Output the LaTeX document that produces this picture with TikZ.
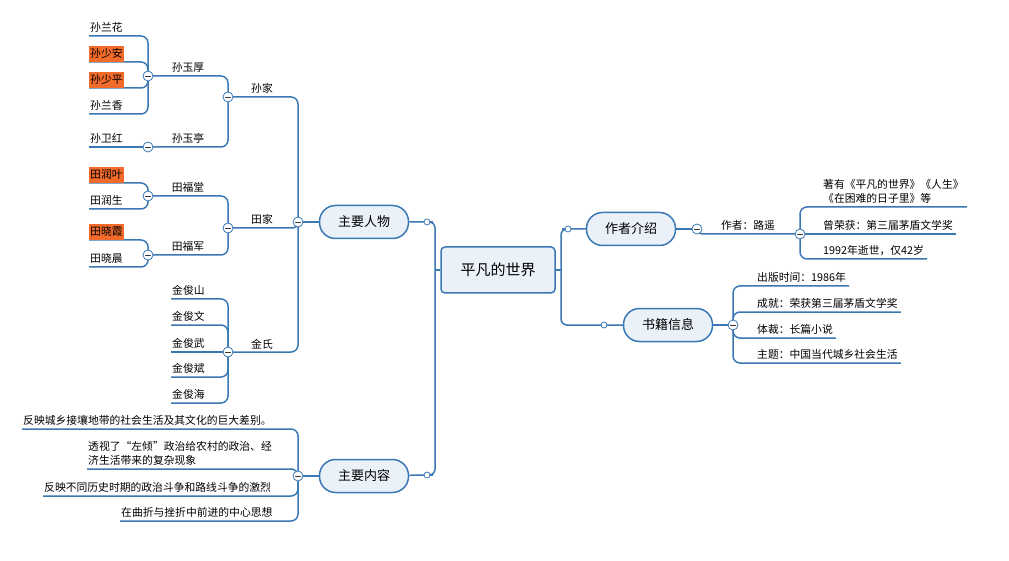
\documentclass[tikz,border=0pt]{standalone}
\usepackage{fontspec}
\setmainfont{Noto Sans CJK SC}
\usetikzlibrary{positioning}
\definecolor{mapblue}{HTML}{3A78B4}
\definecolor{mapfill}{HTML}{EAF1F9}
\definecolor{hotorange}{HTML}{F26B2A}
\pgfdeclarelayer{links}
\pgfsetlayers{links,main}
\tikzset{
  root/.style={draw=mapblue, line width=1.5pt, fill=mapfill, rounded corners=4pt,
    minimum width=114pt, minimum height=46pt, font=\fontsize{15}{18}\selectfont},
  topic/.style={draw=mapblue, line width=1.5pt, fill=mapfill, rounded corners=16pt,
    minimum width=89pt, minimum height=33pt, font=\fontsize{13}{16}\selectfont},
  leaf/.style={inner xsep=1pt, inner ysep=3pt, font=\fontsize{10.8}{14}\selectfont},
  rleaf/.style={leaf, inner xsep=3pt},
  hot/.style={leaf, fill=hotorange},
  fold/.style={circle, draw=mapblue, fill=white, line width=0.8pt, minimum size=10pt, inner sep=0pt,
    path picture={\draw[black!80, line width=0.8pt]
      ([xshift=-2.5pt]path picture bounding box.center) -- ([xshift=2.5pt]path picture bounding box.center);}},
  knot/.style={circle, draw=mapblue, fill=white, line width=0.8pt, minimum size=6pt, inner sep=0pt},
  link/.style={draw=mapblue, line width=1.5pt, rounded corners=7pt},
}

\begin{document}
\begin{tikzpicture}[x=1pt, y=-1pt, line cap=round, line join=round]
  \useasboundingbox (0,0) rectangle (1009,561);

  % ============ centre and main topics ============
  \node[root] (world) at (498,270) {平凡的世界};
  \node[topic] (author) at (631,229) {作者介绍};
  \node[topic] (book) at (668,325) {书籍信息};
  \node[topic] (people) at (364,222) {主要人物};
  \node[topic] (content) at (364,476) {主要内容};

  \coordinate (rfork) at (561,270);
  \coordinate (lfork) at (435,270);
  \node[knot] (authorknot) at (568,229) {};
  \node[knot] (bookknot) at (604,325) {};
  \node[knot] (peopleknot) at (427,222) {};
  \node[knot] (contentknot) at (427,475) {};

  % ============ fold markers ============
  \node[fold] (peoplefold) at (298,222) {};
  \node[fold] (contentfold) at (298,476) {};
  \node[fold] (authorfold) at (697,229) {};
  \node[fold] (luyaofold) at (800,234) {};
  \node[fold] (bookfold) at (733,325) {};
  \node[fold] (sunfold) at (228,97) {};
  \node[fold] (tianfold) at (228,228) {};
  \node[fold] (jinfold) at (228,352) {};
  \node[fold] (yuhoufold) at (148,76) {};
  \node[fold] (yutingfold) at (148,147) {};
  \node[fold] (futangfold) at (148,196) {};
  \node[fold] (fujunfold) at (148,255) {};

  % ============ families ============
  \node[leaf, anchor=south] (sunjia) at (262,97) {孙家};
  \node[leaf, anchor=south] (tianjia) at (262,228) {田家};
  \node[leaf, anchor=south] (jinshi) at (262,352) {金氏};
  \node[leaf, anchor=south] (yuhou) at (188,76) {孙玉厚};
  \node[leaf, anchor=south] (yuting) at (188,147) {孙玉亭};
  \node[leaf, anchor=south] (futang) at (188,196) {田福堂};
  \node[leaf, anchor=south] (fujun) at (188,255) {田福军};

  \node[leaf, anchor=south west] (lanhua) at (89,36) {孙兰花};
  \node[hot, anchor=south west] (shaoan) at (89,62) {孙少安};
  \node[hot, anchor=south west] (shaoping) at (89,88) {孙少平};
  \node[leaf, anchor=south west] (lanxiang) at (89,114) {孙兰香};
  \node[leaf, anchor=south west] (weihong) at (89,147) {孙卫红};
  \node[hot, anchor=south west] (runye) at (89,183) {田润叶};
  \node[leaf, anchor=south west] (runsheng) at (89,209) {田润生};
  \node[hot, anchor=south west] (xiaoxia) at (89,240) {田晓霞};
  \node[leaf, anchor=south west] (xiaochen) at (89,267) {田晓晨};

  \node[leaf, anchor=south west] (junshan) at (171,299) {金俊山};
  \node[leaf, anchor=south west] (junwen) at (171,325) {金俊文};
  \node[leaf, anchor=south west] (junwu) at (171,352) {金俊武};
  \node[leaf, anchor=south west] (junbin) at (171,377) {金俊斌};
  \node[leaf, anchor=south west] (junhai) at (171,403) {金俊海};

  % ============ main content ============
  \node[leaf, anchor=south west] (gap) at (22,429) {反映城乡接壤地带的社会生活及其文化的巨大差别。};
  \node[leaf, anchor=south west, align=left] (leftist) at (87,469)
    {透视了“左倾”政治给农村的政治、经\\济生活带来的复杂现象};
  \node[leaf, anchor=south west] (struggle) at (43,496) {反映不同历史时期的政治斗争和路线斗争的激烈};
  \node[leaf, anchor=south west] (forward) at (120,521) {在曲折与挫折中前进的中心思想};

  % ============ author and book ============
  \node[leaf, anchor=south] (luyao) at (748,234) {作者：路遥};
  \node[rleaf, anchor=south west, align=left] (works) at (820,207)
    {著有《平凡的世界》《人生》\\《在困难的日子里》等};
  \node[rleaf, anchor=south west] (prize) at (820,234) {曾荣获：第三届茅盾文学奖};
  \node[rleaf, anchor=south west] (death) at (820,259) {1992年逝世，仅42岁};

  \node[rleaf, anchor=south west] (year) at (754,286) {出版时间：1986年};
  \node[rleaf, anchor=south west] (honour) at (754,312) {成就：荣获第三届茅盾文学奖};
  \node[rleaf, anchor=south west] (genre) at (754,338) {体裁：长篇小说};
  \node[rleaf, anchor=south west] (theme) at (754,363) {主题：中国当代城乡社会生活};

  % ============ connectors ============
  \begin{pgfonlayer}{links}
    \draw[link] (world.east) -- (rfork);
    \draw[link, rounded corners=6pt] (rfork) |- (authorknot.center) -- (author);
    \draw[link, rounded corners=6pt] (rfork) |- (bookknot.center) -- (book);
    \draw[link] (world.west) -- (lfork);
    \draw[link, rounded corners=6pt] (lfork) |- (peopleknot.center) -- (people);
    \draw[link, rounded corners=6pt] (lfork) |- (contentknot.center) -- (content);

    \draw[link] (people) -- (peoplefold);
    \draw[link] (peoplefold.center) |- (sunfold.center);
    \draw[link, rounded corners=5pt] (peoplefold.center) |- (tianfold.center);
    \draw[link] (peoplefold.center) |- (jinfold.center);

    \draw[link] (sunfold.center) |- (yuhoufold.center);
    \draw[link] (sunfold.center) |- (yutingfold.center);
    \draw[link] (tianfold.center) |- (futangfold.center);
    \draw[link] (tianfold.center) |- (fujunfold.center);

    \foreach \kid in {lanhua, shaoan, shaoping, lanxiang}
      \draw[link] (yuhoufold.center) |- (\kid.south west);
    \draw[link] (yutingfold.center) -- (weihong.south west);
    \foreach \kid in {runye, runsheng}
      \draw[link] (futangfold.center) |- (\kid.south west);
    \foreach \kid in {xiaoxia, xiaochen}
      \draw[link] (fujunfold.center) |- (\kid.south west);
    \foreach \kid in {junshan, junwen, junbin, junhai}
      \draw[link] (jinfold.center) |- (\kid.south west);
    \draw[link] (jinfold.center) -- (junwu.south west);

    \draw[link] (content) -- (contentfold);
    \foreach \kid in {gap, leftist, struggle, forward}
      \draw[link] (contentfold.center) |- (\kid.south west);

    \draw[link] (author) -- (authorfold);
    \draw[link, rounded corners=5pt] (authorfold.center) |- (luyaofold.center);
    \draw[link] (luyaofold.center) |- (works.south east);
    \draw[link] (luyaofold.center) -- (prize.south east);
    \draw[link] (luyaofold.center) |- (death.south east);

    \draw[link] (book) -- (bookfold);
    \foreach \kid in {year, honour, genre, theme}
      \draw[link] (bookfold.center) |- (\kid.south east);
  \end{pgfonlayer}
\end{tikzpicture}
\end{document}
